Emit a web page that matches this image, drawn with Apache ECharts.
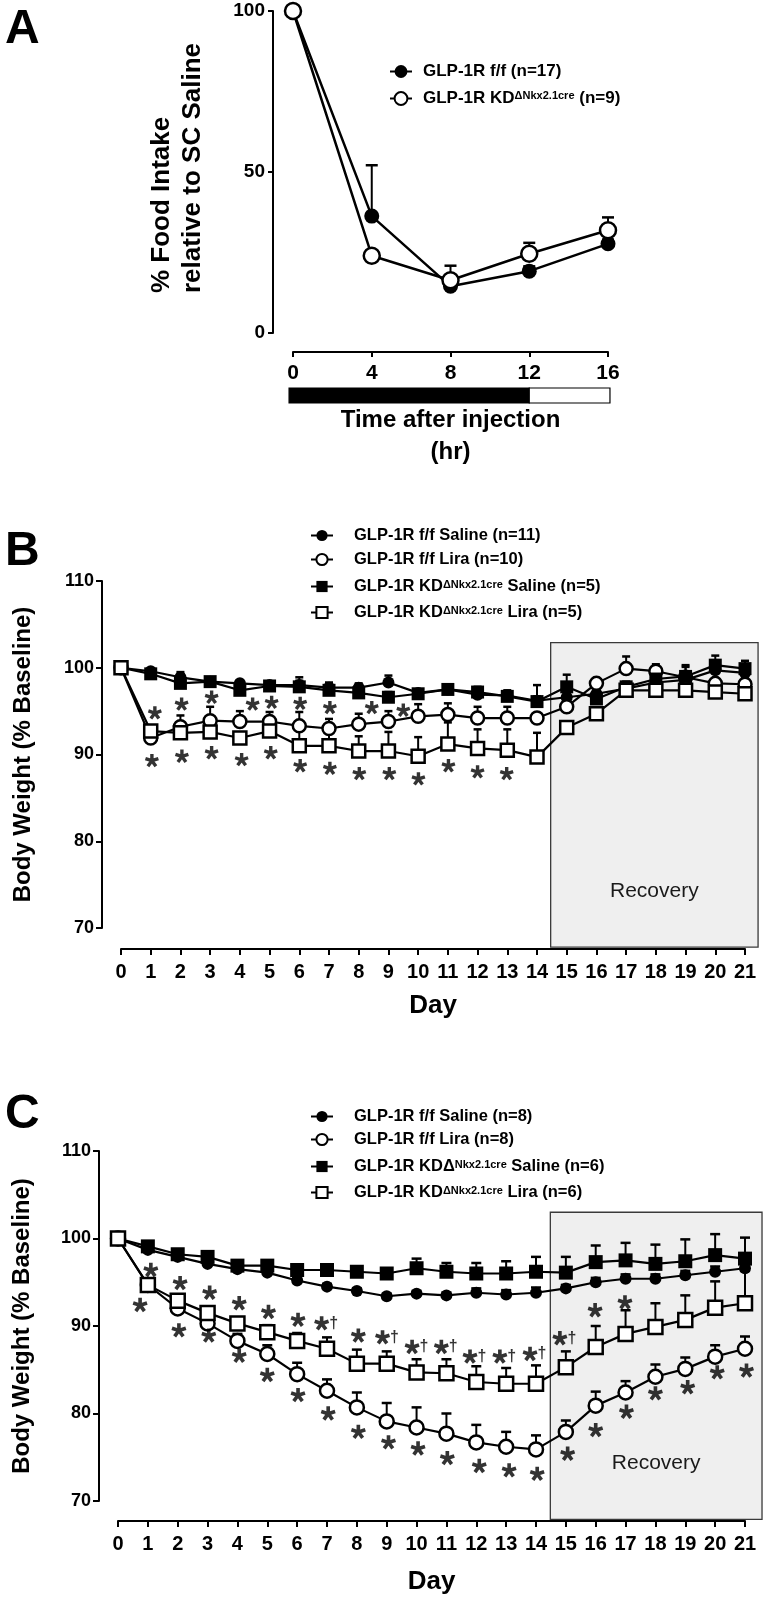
<!DOCTYPE html>
<html><head><meta charset="utf-8">
<script src="https://cdn.jsdelivr.net/npm/echarts@6/dist/echarts.min.js"></script>
<style>html,body{margin:0;padding:0;background:#fff}#c{width:765px;height:1604px}</style>
</head><body><div id="c"></div>
<script>
// ================= DATA =================
// Panel A
const hoursA = [0, 4, 8, 12, 16];
const aFloxMean = [100, 36.3, 14.5, 19.2, 27.7];
const aFloxSem  = [0, 15.8, 1.0, 1.5, 1.3];
const aKdMean   = [100, 24.0, 16.4, 24.6, 31.9];
const aKdSem    = [0, 0, 4.5, 3.4, 4.0];
const lightDarkPhases = [[-0.2, 12, 1], [12, 16.1, 0]]; // start hr, end hr, dark?

// Panels B and C
const days = [0,1,2,3,4,5,6,7,8,9,10,11,12,13,14,15,16,17,18,19,20,21];

const bFfSalMean  = [100, 99.6, 98.9, 98.4, 98.2, 98.0, 98.0, 97.7, 97.7, 98.3, 97.1, 97.5, 96.9, 96.8, 96.2, 96.6, 97.0, 97.6, 98.3, 98.6, 99.7, 99.4];
const bFfSalSem   = [0, 0, 0.6, 0.3, 0.3, 0.3, 0.5, 0.5, 0.5, 0.8, 0.3, 0.3, 0.4, 0.3, 0.5, 0.6, 0.5, 0.6, 0.5, 0.6, 0.5, 0.4];
const bFfLiraMean = [100, 91.9, 93.2, 93.9, 93.8, 93.8, 93.3, 93.0, 93.5, 93.8, 94.4, 94.6, 94.2, 94.2, 94.2, 95.5, 98.2, 99.9, 99.6, 98.9, 98.2, 98.1];
const bFfLiraSem  = [0, 0, 1.3, 1.6, 1.2, 1.1, 1.6, 1.1, 1.2, 1.2, 1.4, 1.3, 1.3, 1.3, 0.5, 1.5, 0.6, 1.4, 0.8, 1.2, 0.4, 0.4];
const bKdSalMean  = [100, 99.3, 98.2, 98.4, 97.4, 97.9, 97.8, 97.4, 97.1, 96.6, 97.0, 97.5, 97.2, 96.7, 96.1, 97.8, 96.4, 97.8, 98.7, 99.0, 100.3, 99.9];
const bKdSalSem   = [0, 0, 1.0, 0.4, 0.3, 0.3, 1.1, 0.9, 0.9, 0.6, 0.4, 0.4, 0.6, 0.7, 1.9, 1.4, 0.8, 0.6, 0.7, 1.3, 1.1, 0.9];
const bKdLiraMean = [100, 92.7, 92.5, 92.6, 91.9, 92.7, 91.0, 91.0, 90.4, 90.4, 89.8, 91.2, 90.7, 90.5, 89.7, 93.1, 94.7, 97.4, 97.4, 97.4, 97.2, 97.0];
const bKdLiraSem  = [0, 0.4, 0.4, 0.4, 0.4, 0.4, 1.8, 1.6, 1.7, 2.2, 2.2, 2.5, 2.2, 2.4, 2.8, 0.5, 0.5, 0.4, 0.4, 0.4, 0.4, 0.4];
const bRecovery   = [14.46, 21.44, 67.8, 102.9]; // day from, day to, % from, % to
const bStarsUpper = [[1.14,94.8],[2.04,95.8],[3.05,96.6],[4.43,95.8],[5.07,96.0],[6.03,95.9],[7.03,95.4],[8.44,95.4],[9.5,95.1]];
const bStarsLower = [[1.04,89.3],[2.05,89.8],[3.05,90.2],[4.06,89.4],[5.04,90.2],[6.03,88.7],[7.03,88.4],[8.02,87.8],[9.03,87.8],[10.01,87.2],[11.02,88.7],[12.0,88.0],[12.98,87.8]];

const cFfSalMean  = [100, 98.7, 97.9, 97.1, 96.5, 96.1, 95.2, 94.5, 94.0, 93.4, 93.7, 93.5, 93.8, 93.6, 93.8, 94.3, 95.0, 95.4, 95.4, 95.8, 96.2, 96.6];
const cFfSalSem   = [0, 0.3, 0.3, 0.3, 0.3, 0.3, 0.3, 0.3, 0.3, 0.3, 0.3, 0.3, 0.5, 0.5, 0.6, 0.4, 0.5, 0.5, 0.5, 0.5, 0.6, 0.9];
const cFfLiraMean = [100, 94.7, 92.0, 90.3, 88.3, 86.8, 84.5, 82.6, 80.7, 79.1, 78.4, 77.7, 76.7, 76.2, 75.9, 77.9, 80.9, 82.4, 84.2, 85.1, 86.5, 87.4];
const cFfLiraSem  = [0, 0.5, 0.6, 0.7, 0.8, 1.0, 1.3, 1.3, 1.7, 2.1, 2.3, 2.3, 2.0, 1.7, 1.6, 1.3, 1.6, 1.3, 1.4, 1.3, 1.3, 1.4];
const cKdSalMean  = [100, 99.1, 98.2, 97.9, 96.9, 96.9, 96.4, 96.4, 96.2, 96.0, 96.6, 96.2, 96.0, 96.0, 96.2, 96.1, 97.3, 97.5, 97.1, 97.4, 98.1, 97.7];
const cKdSalSem   = [0, 0.3, 0.3, 0.3, 0.3, 0.3, 0.4, 0.4, 0.4, 0.6, 1.1, 1.0, 1.2, 1.4, 1.7, 1.8, 1.9, 2.0, 2.2, 2.5, 2.4, 2.4];
const cKdLiraMean = [100, 94.7, 92.9, 91.5, 90.3, 89.3, 88.3, 87.4, 85.7, 85.7, 84.7, 84.6, 83.6, 83.4, 83.4, 85.3, 87.6, 89.1, 89.9, 90.7, 92.1, 92.6];
const cKdLiraSem  = [0, 0.5, 0.5, 0.6, 0.6, 0.8, 0.9, 1.3, 1.6, 1.4, 1.5, 1.6, 1.8, 1.8, 2.1, 1.8, 2.4, 2.7, 2.7, 2.8, 3.0, 3.7];
const cRecovery   = [14.48, 21.57, 67.9, 103.0];
// [day, %, mark]  (mark: '*' or '*†')
const cStarsUpper = [[1.1,96.4,'*'],[2.08,94.9,'*'],[3.07,93.8,'*'],[4.06,92.6,'*'],[5.04,91.6,'*'],[6.03,90.7,'*'],[6.82,90.3,'*†'],[8.05,88.9,'*'],[8.86,88.7,'*†'],[9.85,87.6,'*†'],[10.83,87.6,'*†'],[11.79,86.5,'*†'],[12.79,86.5,'*†'],[13.8,86.8,'*†'],[14.8,88.6,'*†'],[15.98,91.8,'*'],[16.98,92.7,'*']];
const cStarsLower = [[0.74,92.4],[2.04,89.5],[3.04,88.9],[4.06,86.6],[5.0,84.4],[6.03,82.1],[7.04,80.0],[8.05,77.9],[9.06,76.7],[10.05,76.0],[11.03,74.9],[12.1,74.0],[13.1,73.5],[14.04,73.1],[15.06,75.4],[16.0,78.1],[17.03,80.2],[18.0,82.3],[19.08,83.0],[20.07,84.7],[21.05,84.9]];

// Legend rows (names + rich pieces)
const legendA = [
  {name:'GLP-1R f/f (n=17)', pre:'GLP-1R f/f (n=17)'},
  {name:'GLP-1R KDΔNkx2.1cre (n=9)', pre:'GLP-1R KD', sup:'ΔNkx2.1cre', post:' (n=9)'}
];
const legendB = [
  {name:'GLP-1R f/f Saline (n=11)', pre:'GLP-1R f/f Saline (n=11)'},
  {name:'GLP-1R f/f Lira (n=10)', pre:'GLP-1R f/f Lira (n=10)'},
  {name:'GLP-1R KDΔNkx2.1cre Saline (n=5)', pre:'GLP-1R KD', sup:'ΔNkx2.1cre', post:' Saline (n=5)'},
  {name:'GLP-1R KDΔNkx2.1cre Lira (n=5)', pre:'GLP-1R KD', sup:'ΔNkx2.1cre', post:' Lira (n=5)'}
];
const legendC = [
  {name:'GLP-1R f/f Saline (n=8)', pre:'GLP-1R f/f Saline (n=8)'},
  {name:'GLP-1R f/f Lira (n=8)', pre:'GLP-1R f/f Lira (n=8)'},
  {name:'GLP-1R KDΔ Nkx2.1cre Saline (n=6)', pre:'GLP-1R KDΔ', sup:'Nkx2.1cre', post:' Saline (n=6)'},
  {name:'GLP-1R KDΔNkx2.1cre Lira (n=6)', pre:'GLP-1R KD', sup:'ΔNkx2.1cre', post:' Lira (n=6)'}
];

// ================= RENDER =================
const F = "'Liberation Sans', Arial, Helvetica, sans-serif";
const chart = echarts.init(document.getElementById('c'), null, {renderer:'canvas', width:765, height:1604});

const pairs = (xs, ys) => ys.map((v, i) => [xs[i], v]);

// five-spoke asterisk glyph as a symbol path
const ASTERISK = (() => {
  const cx = 50, cy = 50, L = 48, W = 12;
  let d = '';
  for (let k = 0; k < 5; k++) {
    const a = (-90 + k * 72) * Math.PI / 180;
    const ux = Math.cos(a), uy = Math.sin(a), px = -uy, py = ux;
    const pts = [[cx + px*W, cy + py*W], [cx + ux*L + px*W, cy + uy*L + py*W], [cx + ux*L - px*W, cy + uy*L - py*W], [cx - px*W, cy - py*W]];
    d += 'M' + pts.map(p => p[0].toFixed(2) + ' ' + p[1].toFixed(2)).join(' L') + ' Z ';
  }
  return 'path://' + d;
})();

function lineSeries(name, g, xs, ys, symbol, size, filled, z, lw) {
  return {
    type:'line', name, xAxisIndex:g, yAxisIndex:g, data:pairs(xs, ys),
    symbol, symbolSize:size, showSymbol:true, showAllSymbol:true, clip:false, z, animation:false,
    lineStyle:{color:'#000', width:lw || 2.2},
    itemStyle:{color: filled ? '#000' : '#fff', borderColor:'#000', borderWidth: filled ? 0 : 2.5},
    emphasis:{disabled:true}, silent:true
  };
}
function errSeries(g, xs, mean, sem, cap, z) {
  const data = mean.map((m, i) => [xs[i], m, m + sem[i]]).filter(d => d[2] - d[1] > 0.05);
  return {
    type:'custom', xAxisIndex:g, yAxisIndex:g, z, silent:true, clip:false, animation:false, data,
    renderItem: (params, api) => {
      const p0 = api.coord([api.value(0), api.value(1)]);
      const p1 = api.coord([api.value(0), api.value(2)]);
      return {type:'group', children:[
        {type:'line', shape:{x1:p0[0], y1:p0[1], x2:p1[0], y2:p1[1]}, style:{stroke:'#000', lineWidth:2}},
        {type:'line', shape:{x1:p1[0]-cap, y1:p1[1], x2:p1[0]+cap, y2:p1[1]}, style:{stroke:'#000', lineWidth:2.5}}
      ]};
    }
  };
}
function recoverySeries(g, box) {
  return {
    type:'custom', xAxisIndex:g, yAxisIndex:g, z:0, silent:true, clip:false, animation:false, data:[box],
    renderItem: (params, api) => {
      const a = api.coord([api.value(0), api.value(3)]);
      const b = api.coord([api.value(1), api.value(2)]);
      return {type:'group', children:[
        {type:'rect', shape:{x:a[0], y:a[1], width:b[0]-a[0], height:b[1]-a[1]}, style:{fill:'#efefef', stroke:'#3a3a3a', lineWidth:1.3}},
        {type:'text', style:{text:'Recovery', x:(a[0]+b[0])/2, y:b[1]-56, align:'center', verticalAlign:'middle', fontSize:21, fontFamily:F, fill:'#1a1a1a'}}
      ]};
    }
  };
}
function starSeries(g, pts, size) {
  return {
    type:'scatter', xAxisIndex:g, yAxisIndex:g, z:8, silent:true, clip:false, animation:false,
    symbol:ASTERISK, symbolSize:size, symbolKeepAspect:true, itemStyle:{color:'#000'},
    data: pts.map(p => ({value:[p[0], p[1]], label:{show: p[2] === '*†'}})),
    label:{show:false, position:'right', distance:0, formatter:'†', fontSize:16, fontWeight:'bold', fontFamily:F, color:'#000', offset:[0,-1]},
    labelLayout:{hideOverlap:false}
  };
}
function legendFor(row, left, cy, h, fs, pad, sup) {
  const txt = row.sup ? `{f|${row.pre}}{s|${row.sup}}{m|${row.post}}` : `{f|${row.pre}}`;
  return {
    show:true, data:[row.name], left, top: cy - h/2, padding:0, itemWidth:22, itemHeight:h,
    selectedMode:false, orient:'horizontal', formatter: () => txt,
    textStyle:{rich:{
      f:{fontSize:fs, fontWeight:'bold', fontFamily:F, color:'#000', lineHeight:h, padding:[0,0,0,pad]},
      m:{fontSize:fs, fontWeight:'bold', fontFamily:F, color:'#000', lineHeight:h},
      s:{fontSize:sup, fontWeight:'bold', fontFamily:F, color:'#000', lineHeight:3, verticalAlign:'top'}
    }}
  };
}

const axLine = {show:true, onZero:false, lineStyle:{color:'#000', width:2}};
const tick = len => ({show:true, length:len, inside:false, lineStyle:{color:'#000', width:2}});
const lab = (fs, margin) => ({show:true, color:'#000', fontSize:fs, fontWeight:'bold', fontFamily:F, margin, showMinLabel:true, showMaxLabel:true});
const nameStyle = (fs, lh) => ({color:'#000', fontSize:fs, fontWeight:'bold', fontFamily:F, lineHeight:lh});
const letter = (t, y) => ({type:'text', x:5, y, style:{text:t, fontSize:48, fontWeight:'bold', fontFamily:F, fill:'#000', align:'left', verticalAlign:'middle'}});

const option = {
  animation:false,
  backgroundColor:'#fff',
  textStyle:{fontFamily:F},
  grid:[
    {left:293, top:11, width:315, height:322, containLabel:false, outerBoundsMode:'none'},
    {left:121, top:581, width:624, height:347, containLabel:false, outerBoundsMode:'none'},
    {left:118, top:1151, width:627, height:350, containLabel:false, outerBoundsMode:'none'},
    {left:293, top:388, width:315, height:15, containLabel:false, outerBoundsMode:'none'}
  ],
  xAxis:[
    {gridIndex:0, type:'value', min:0, max:16, interval:4, offset:19, axisLine:axLine, axisTick:tick(5), axisLabel:lab(21, 11), splitLine:{show:false},
      name:'Time after injection\n(hr)', nameLocation:'middle', nameGap:52, nameTextStyle:nameStyle(24, 32)},
    {gridIndex:1, type:'value', min:0, max:21, interval:1, offset:21, axisLine:axLine, axisTick:tick(6), axisLabel:lab(20, 13), splitLine:{show:false},
      name:'Day', nameLocation:'middle', nameGap:43, nameTextStyle:nameStyle(26, 28)},
    {gridIndex:2, type:'value', min:0, max:21, interval:1, offset:20, axisLine:axLine, axisTick:tick(6), axisLabel:lab(20, 13), splitLine:{show:false},
      name:'Day', nameLocation:'middle', nameGap:47, nameTextStyle:nameStyle(26, 28)},
    {gridIndex:3, type:'value', min:0, max:16, show:false}
  ],
  yAxis:[
    {gridIndex:0, type:'value', min:0, max:100, interval:50, offset:20, axisLine:axLine, axisTick:tick(5), axisLabel:lab(19, 8), splitLine:{show:false}},
    {gridIndex:1, type:'value', min:70, max:110, interval:10, offset:19, axisLine:axLine, axisTick:tick(6), axisLabel:lab(18, 8), splitLine:{show:false},
      name:'Body Weight (% Baseline)', nameLocation:'middle', nameRotate:90, nameGap:66, nameTextStyle:nameStyle(24, 26)},
    {gridIndex:2, type:'value', min:70, max:110, interval:10, offset:19, axisLine:axLine, axisTick:tick(6), axisLabel:lab(18, 8), splitLine:{show:false},
      name:'Body Weight (% Baseline)', nameLocation:'middle', nameRotate:90, nameGap:64, nameTextStyle:nameStyle(24, 26)},
    {gridIndex:3, type:'value', min:0, max:1, show:false}
  ],
  legend:[
    legendFor(legendA[0], 389, 71, 16, 17, 6, 11),
    legendFor(legendA[1], 389, 98, 16, 17, 6, 11),
    legendFor(legendB[0], 310, 534, 14, 16.5, 16, 11),
    legendFor(legendB[1], 310, 558, 14, 16.5, 16, 11),
    legendFor(legendB[2], 310, 585, 14, 16.5, 16, 11),
    legendFor(legendB[3], 310, 611, 14, 16.5, 16, 11),
    legendFor(legendC[0], 310, 1115, 14, 16.5, 16, 11),
    legendFor(legendC[1], 310, 1138, 14, 16.5, 16, 11),
    legendFor(legendC[2], 310, 1165, 14, 16.5, 16, 11),
    legendFor(legendC[3], 310, 1191, 14, 16.5, 16, 11)
  ],
  graphic:[
    letter('A', 30), letter('B', 552), letter('C', 1115),
    {type:'text', x:177.5, y:293, rotation:Math.PI/2, style:{text:'% Food Intake\nrelative to SC Saline', fontSize:26, fontWeight:'bold', fontFamily:F, fill:'#000', align:'left', verticalAlign:'middle', lineHeight:31}}
  ],
  series:[
    // Panel A
    {type:'custom', xAxisIndex:3, yAxisIndex:3, silent:true, clip:false, animation:false, data:lightDarkPhases,
      renderItem:(params, api) => {
        const a = api.coord([api.value(0), 1]);
        const b = api.coord([api.value(1), 0]);
        return {type:'rect', shape:{x:a[0], y:a[1], width:b[0]-a[0], height:b[1]-a[1]},
          style:{fill: api.value(2) ? '#000' : '#fff', stroke:'#000', lineWidth:1.2}};
      }},
    errSeries(0, hoursA, aFloxMean, aFloxSem, 6, 2),
    errSeries(0, hoursA, aKdMean, aKdSem, 6, 2),
    lineSeries(legendA[0].name, 0, hoursA, aFloxMean, 'circle', 15, true, 4, 2.5),
    lineSeries(legendA[1].name, 0, hoursA, aKdMean, 'circle', 16, false, 5, 2.5),
    // Panel B
    recoverySeries(1, bRecovery),
    errSeries(1, days, bFfSalMean, bFfSalSem, 4, 2),
    errSeries(1, days, bFfLiraMean, bFfLiraSem, 4, 2),
    errSeries(1, days, bKdSalMean, bKdSalSem, 4, 2),
    errSeries(1, days, bKdLiraMean, bKdLiraSem, 4, 2),
    lineSeries(legendB[0].name, 1, days, bFfSalMean, 'circle', 12, true, 4),
    lineSeries(legendB[1].name, 1, days, bFfLiraMean, 'circle', 13, false, 5),
    lineSeries(legendB[2].name, 1, days, bKdSalMean, 'rect', 13, true, 6),
    lineSeries(legendB[3].name, 1, days, bKdLiraMean, 'rect', 13, false, 7),
    starSeries(1, bStarsUpper, 14),
    starSeries(1, bStarsLower, 14),
    // Panel C
    recoverySeries(2, cRecovery),
    errSeries(2, days, cFfSalMean, cFfSalSem, 5, 2),
    errSeries(2, days, cFfLiraMean, cFfLiraSem, 5, 2),
    errSeries(2, days, cKdSalMean, cKdSalSem, 5, 2),
    errSeries(2, days, cKdLiraMean, cKdLiraSem, 5, 2),
    lineSeries(legendC[0].name, 2, days, cFfSalMean, 'circle', 12, true, 4),
    lineSeries(legendC[1].name, 2, days, cFfLiraMean, 'circle', 14, false, 5),
    lineSeries(legendC[2].name, 2, days, cKdSalMean, 'rect', 14, true, 6),
    lineSeries(legendC[3].name, 2, days, cKdLiraMean, 'rect', 14, false, 7),
    starSeries(2, cStarsUpper, 15),
    starSeries(2, cStarsLower, 15)
  ]
};
chart.setOption(option);
</script>
</body></html>
